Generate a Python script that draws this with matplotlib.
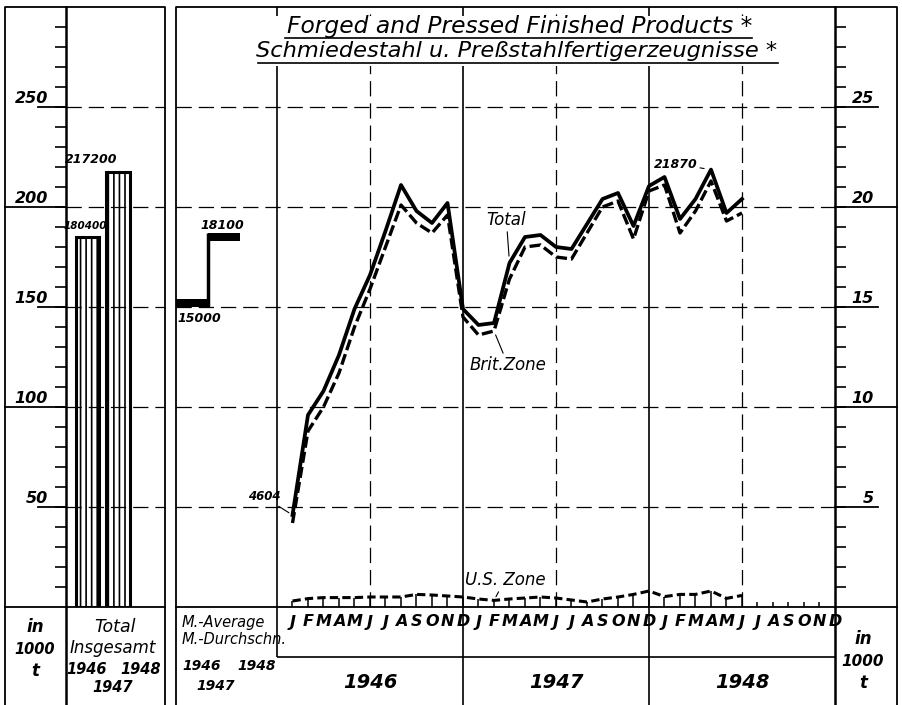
import matplotlib
matplotlib.use('Agg')
import matplotlib.pyplot as plt
from matplotlib.lines import Line2D
from matplotlib.patches import Rectangle
from matplotlib.transforms import blended_transform_factory

plt.rcParams['font.family'] = ['DejaVu Sans']
plt.rcParams['lines.scale_dashes'] = False
plt.rcParams['hatch.linewidth'] = 1.2

# monthly production, 1000 t, Jan 1946 - Jun 1948
month_letters = ['J', 'F', 'M', 'A', 'M', 'J', 'J', 'A', 'S', 'O', 'N', 'D'] * 3
years = ['1946', '1947', '1948']
total = [4.6, 9.6, 10.8, 12.6, 14.9, 16.6, 18.8, 21.1, 19.8, 19.2, 20.2, 14.9,
         14.1, 14.2, 17.2, 18.5, 18.6, 18.0, 17.9, 19.15, 20.4, 20.7, 19.05, 21.05,
         21.5, 19.4, 20.4, 21.87, 19.7, 20.4]
brit_zone = [4.2, 8.8, 10.0, 11.7, 14.0, 15.9, 18.0, 20.1, 19.2, 18.7, 19.6, 14.5,
             13.6, 13.8, 16.4, 18.0, 18.1, 17.5, 17.4, 18.7, 20.0, 20.3, 18.4, 20.8,
             21.1, 18.7, 19.8, 21.3, 19.3, 19.7]
us_zone = [0.3, 0.42, 0.47, 0.47, 0.47, 0.5, 0.5, 0.5, 0.63, 0.6, 0.55, 0.5,
           0.4, 0.33, 0.4, 0.45, 0.5, 0.45, 0.35, 0.25, 0.4, 0.5, 0.63, 0.8,
           0.52, 0.63, 0.63, 0.8, 0.43, 0.58]
avg_values = [15.0, 18.3]
avg_labels = ['15000', '18100']
bar_values = [185.0, 217.5]
bar_labels = ['180400', '217200']

W, H = 902, 705
fig = plt.figure(figsize=(W / 100, H / 100), dpi=100)


def box(x0, y0, x1, y1):
    return [x0 / W, 1 - y1 / H, (x1 - x0) / W, (y1 - y0) / H]


bg = fig.add_axes([0, 0, 1, 1])
bg.set_xlim(0, W)
bg.set_ylim(H, 0)
bg.axis('off')
bg.set_zorder(-1)

axl = fig.add_axes(box(66, 7, 165, 607))
ax = fig.add_axes(box(176, 7, 835, 607))
for a in (axl, ax):
    a.patch.set_alpha(0)
    for s in a.spines.values():
        s.set_visible(False)
    a.set_xticks([])

ink = dict(color='black', lw=1.3)
it = dict(style='italic', weight='bold', color='black')
word = dict(style='italic', color='black')
grid_dash = (0, (11, 5))

# frames
bg.plot([5, 5, 165, 165], [705, 7, 7, 705], **ink)
bg.plot([66, 66], [7, 705], color='black', lw=1.8)
bg.plot([5, 165], [607, 607], **ink)
bg.plot([176, 176, 897, 897], [705, 7, 7, 705], **ink)
bg.plot([835, 835], [7, 705], color='black', lw=1.8)
bg.plot([176, 897], [607, 607], **ink)

# ---- left panel: yearly totals
axl.set_xlim(-0.705, 2.54)
axl.set_ylim(0, 300)
axl.set_yticks(range(10, 300, 10))
axl.tick_params(axis='y', direction='out', length=8, width=1.2, labelleft=False)
axl.hlines([50, 100, 150, 200, 250], -0.705, 2.54, color='black', lw=0.9, linestyles=grid_dash)
tl = blended_transform_factory(axl.transAxes, axl.transData)
for v in [50, 100, 150, 200, 250]:
    x0 = -0.616 if v in (100, 200) else -0.28
    axl.plot([x0, 0], [v, v], transform=tl, clip_on=False, **ink)
    axl.text(-0.18, v + 2, str(v), transform=tl, ha='right', va='baseline', size=11.5, **it)
axl.bar([0, 1], bar_values, width=0.77, color='white', edgecolor='black', lw=2.2, hatch='|||')
axl.text(-0.08, bar_values[0] + 3, bar_labels[0], ha='center', va='bottom', size=7.5, **it)
axl.text(0.13, bar_values[1] + 3, bar_labels[1], ha='center', va='bottom', size=9, **it)

# ---- main panel
m = list(range(1, len(total) + 1))
ax.set_xlim(-6.516, 36)
ax.set_ylim(0, 30)
ax.yaxis.tick_right()
ax.set_yticks(range(1, 30))
ax.tick_params(axis='y', direction='out', length=8, width=1.2, labelright=False)
ax.hlines([5, 10, 15, 20, 25], -6.516, 36, color='black', lw=0.9, linestyles=grid_dash)
ax.vlines([6, 18, 30], 0, 30, color='black', lw=0.9, linestyles=grid_dash)
ax.vlines([12, 24], -4.9, 30, color='black', lw=1.2, clip_on=False)
ax.vlines(0, -2.5, 30, color='black', lw=1.2, clip_on=False)
ax.hlines(-2.5, 0, 36, color='black', lw=1.2, clip_on=False)
tr = blended_transform_factory(ax.transAxes, ax.transData)
for v in [5, 10, 15, 20, 25]:
    x1 = 1.094 if v in (10, 20) else 1.066
    ax.plot([1, x1], [v, v], transform=tr, clip_on=False, **ink)
    ax.text(1.059, v + 0.2, str(v), transform=tr, ha='right', va='baseline', size=11.5, **it)

ax.bar([-5.48, -3.42], 0.38, bottom=avg_values, width=2.07, color='black')
ax.vlines(-4.45, avg_values[0], avg_values[1] + 0.38, color='black', lw=2.5)
ax.text(-5.03, avg_values[0] - 0.25, avg_labels[0], ha='center', va='top', size=9, **it)
ax.text(-3.55, avg_values[1] + 0.45, avg_labels[1], ha='center', va='bottom', size=9, **it)

ax.plot(m, total, color='black', lw=2.7)
ax.plot(m, brit_zone, color='black', lw=2.4, dashes=(8, 3))
ax.plot(m, us_zone, color='black', lw=2.2, dashes=(6, 3))
ax.vlines(m, 0, us_zone, color='black', lw=1.1)
ax.vlines(range(len(total) + 1, 36), 0, 0.25, color='black', lw=1.1)

lead = dict(arrowstyle='-', color='black', lw=0.8, shrinkA=0)
ax.annotate('4604', xy=(1, total[0]), xytext=(-0.85, 5.5), ha='center', va='center',
            size=8.5, arrowprops=dict(shrinkB=3, **lead), **it)
ax.annotate('21870', xy=(28, total[27]), xytext=(25.7, 22.15), ha='center', va='center',
            size=9, arrowprops=dict(shrinkB=5, **lead), **it)
ax.annotate('Total', xy=(15, total[14]), xytext=(14.8, 19.35), ha='center', va='center',
            size=12, arrowprops=dict(shrinkB=5, **lead), **word)
ax.annotate('Brit.Zone', xy=(14, brit_zone[13]), xytext=(14.9, 12.1), ha='center', va='center',
            size=12, arrowprops=dict(shrinkB=3, **lead), **word)
ax.annotate('U.S. Zone', xy=(14, us_zone[13]), xytext=(14.7, 1.35), ha='center', va='center',
            size=12, arrowprops=dict(shrinkB=3, **lead), **word)

for i, s in enumerate(month_letters):
    ax.text(i + 1, -0.75, s, ha='center', va='center', size=11.5, clip_on=False, **it)
for i, s in enumerate(years):
    ax.text(6 + 12 * i, -3.8, s, ha='center', va='center', size=14, clip_on=False, **it)

# ---- label cells
for x, y, s, fs in [(35, 627, 'in', 12), (35, 649, '1000', 10.5), (35, 671, 't', 12),
                    (863, 639, 'in', 12), (863, 661, '1000', 11), (863, 683, 't', 12),
                    (87, 670, '1946', 10.5), (141, 670, '1948', 10.5), (113, 688, '1947', 10.5)]:
    bg.text(x, y, s, ha='center', va='center', size=fs, **it)
bg.text(115, 627, 'Total', ha='center', va='center', size=12.5, **word)
bg.text(113, 648, 'Insgesamt', ha='center', va='center', size=12, **word)
for x, y, s, st in [(182, 622, 'M.-Average', word), (182, 640, 'M.-Durchschn.', word),
                    (182, 666, '1946', it), (237, 666, '1948', it), (196, 686, '1947', it)]:
    bg.text(x, y, s, ha='left', va='center', size=10.5 if st is word else 10, **st)

# ---- title
fig.add_artist(Rectangle((258 / W, 1 - 66 / H), 522 / W, 50 / H, transform=fig.transFigure,
                         fc='white', ec='none', zorder=3))
fig.text(520 / W, 1 - 26 / H, 'Forged and Pressed Finished Products *', ha='center', va='center',
         size=16.8, style='italic', zorder=4)
fig.text(517 / W, 1 - 51 / H, 'Schmiedestahl u. Preßstahlfertigerzeugnisse *', ha='center',
         va='center', size=16.2, style='italic', zorder=4)
fig.add_artist(Line2D([285 / W, 752 / W], [1 - 38 / H, 1 - 38 / H], transform=fig.transFigure,
                      color='black', lw=1.2, zorder=4))
fig.add_artist(Line2D([258 / W, 778 / W], [1 - 63 / H, 1 - 63 / H], transform=fig.transFigure,
                      color='black', lw=1.2, zorder=4))

fig.savefig('out.png', dpi=100)
